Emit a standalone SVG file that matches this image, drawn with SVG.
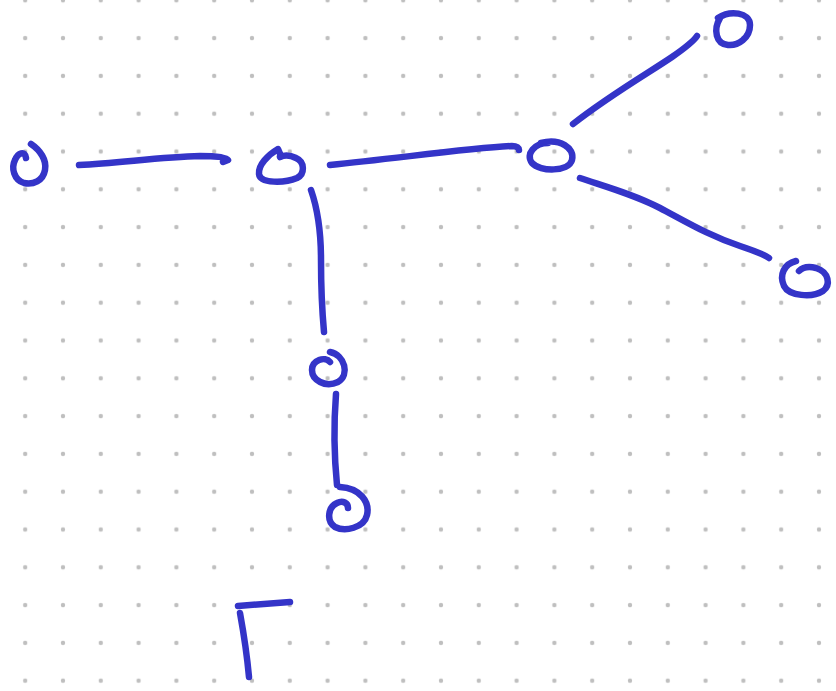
<svg xmlns="http://www.w3.org/2000/svg" width="836" height="691" viewBox="0 0 836 691">
<style>
.s{fill:none;stroke:#3434c8;stroke-width:6.5;stroke-linecap:round;stroke-linejoin:round}
</style>
<defs>
<pattern id="dots" x="6.3" y="-18.6" width="37.8" height="37.8" patternUnits="userSpaceOnUse">
<circle cx="18.9" cy="18.9" r="2.2" fill="#bfbfbf"/>
</pattern>
</defs>
<rect width="836" height="691" fill="#ffffff"/>
<rect width="836" height="691" fill="url(#dots)"/>
<g id="connectors">
<path class="s" d="M79,165 C120,163 160,157 200,156 C215,156 226,157 228,160 L223,162"/>
<path class="s" d="M330,165 C400,158 470,148 512,146 C517,146 519,148 519,150"/>
<path class="s" d="M573,124 C610,95 650,72 672,57 C685,48 693,42 697,36"/>
<path class="s" d="M580,178 C610,188 635,195 660,208 C690,224 710,236 740,246 C755,251 765,255 769,258"/>
<path class="s" d="M311,190 C318,210 321,230 321,260 C321,290 322,310 324,332"/>
<path class="s" d="M336,394 C334,420 334,455 337,485"/>
</g>
<g id="node1"><path class="s" d="M31,144 C40,150 47,160 45,170 C43,181 33,185 24,183 C14,180 11,168 15,160 C18,153 25,150 26,158"/></g>
<g id="node2"><path class="s" d="M281,156 L278,149 C268,155 258,165 259,174 C260,184 285,183 297,178 C305,174 305,162 296,158 C290,155 284,155 280,157"/></g>
<g id="node3"><path class="s" d="M541,143 C560,138 575,148 572,160 C569,172 540,172 532,163 C525,154 535,143 548,143"/></g>
<g id="node4"><path class="s" d="M718,18 C730,10 750,12 750,25 C750,38 738,46 728,45 C716,44 713,30 720,18"/></g>
<g id="node5"><path class="s" d="M796,261 C784,264 779,275 784,286 C789,296 812,298 823,291 C831,285 829,272 816,268 C808,266 803,267 799,271"/></g>
<g id="node6"><path class="s" d="M330,352 C345,355 350,375 338,382 C325,388 312,380 312,370 C312,360 325,356 330,362"/></g>
<g id="node7"><path class="s" d="M340,487 C360,488 370,502 367,515 C364,528 345,532 335,527 C326,521 328,507 337,503 C343,500 348,503 348,508"/></g>
<g id="stroke-l">
<path class="s" d="M238,606 L290,602"/>
<path class="s" d="M240,613 C244,635 247,655 249,677"/>
</g>
</svg>
